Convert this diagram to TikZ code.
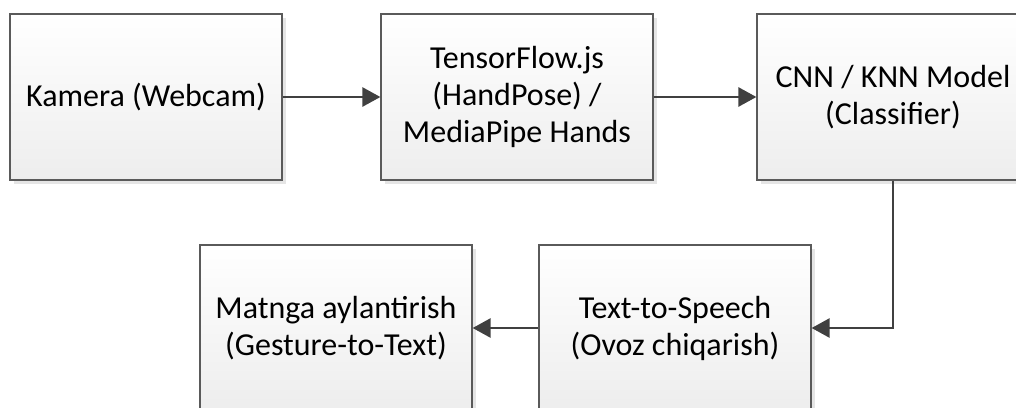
\documentclass[tikz,border=0pt]{standalone}
\usepackage{fontspec}
\setmainfont{Carlito}
\usetikzlibrary{arrows.meta,shadows}
\definecolor{edgegray}{HTML}{5A5A5A}
\definecolor{arrgray}{HTML}{404040}
\begin{document}
\begin{tikzpicture}[x=1pt,y=-1pt,
  blk/.style={draw=edgegray,line width=1.2pt,minimum width=272pt,minimum height=166pt,
    top color=white,bottom color=black!7,align=center,inner sep=0pt,
    font=\fontsize{32}{37}\selectfont,
    drop shadow={shadow xshift=4pt,shadow yshift=-4pt,fill=black!10,opacity=1}},
  conn/.style={draw=arrgray,line width=2.6pt,-{Triangle[length=18pt,width=19pt]}}]
\useasboundingbox (0,0) rectangle (1016,407);
\begin{scope}
\clip (0,0) rectangle (1016,407);
\node[blk] (cam) at (146,97) {Kamera (Webcam)};
\node[blk] (tf) at (517,97) {TensorFlow.js\\(HandPose) /\\MediaPipe Hands};
\node[blk] (cnn) at (893,97) {CNN / KNN Model\\(Classifier)};
\node[blk] (tts) at (675,328) {Text-to-Speech\\(Ovoz chiqarish)};
\node[blk] (txt) at (336,328) {Matnga aylantirish\\(Gesture-to-Text)};
\end{scope}
\draw[conn] (cam.east) -- (tf.west);
\draw[conn] (tf.east) -- (cnn.west);
\draw[conn] (cnn.south) |- (tts.east);
\draw[conn] (tts.west) -- (txt.east);
\end{tikzpicture}
\end{document}
